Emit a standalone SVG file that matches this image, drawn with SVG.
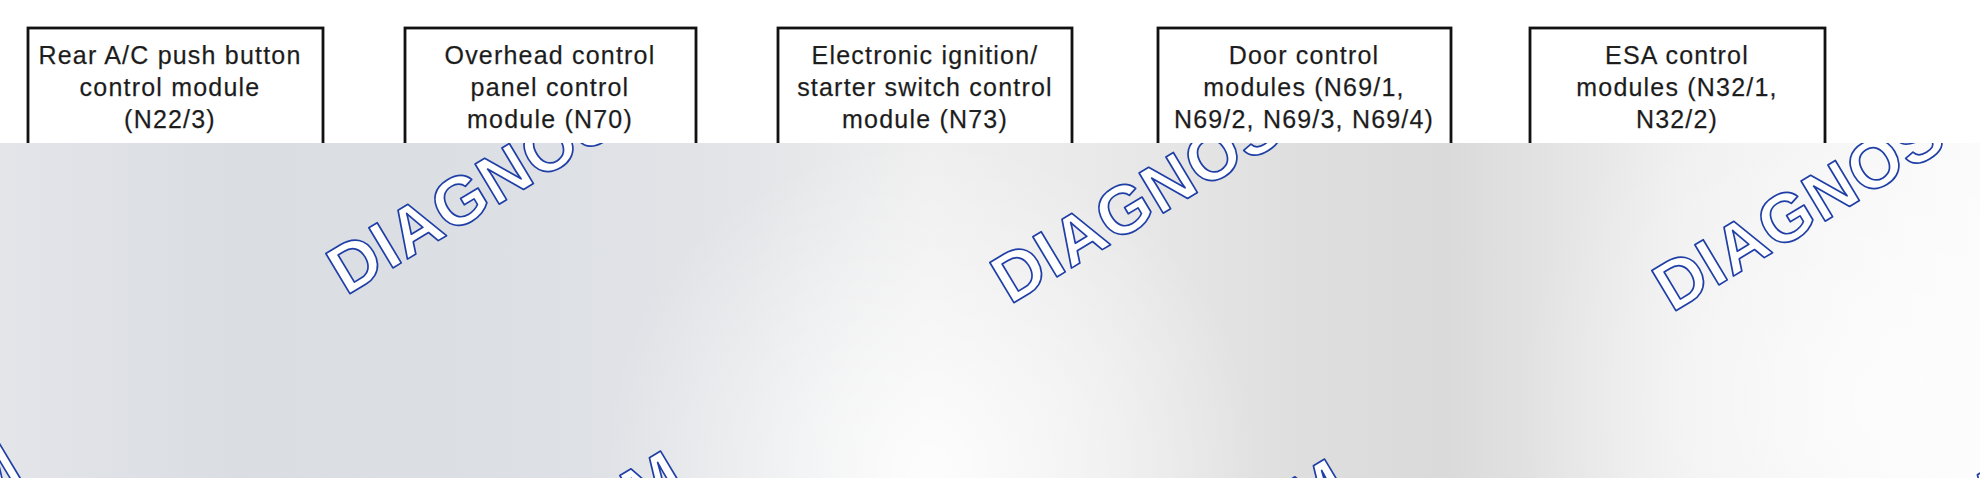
<svg xmlns="http://www.w3.org/2000/svg" width="1980" height="478" viewBox="0 0 1980 478">
  <defs>
    <style>
      .box { fill: #ffffff; stroke: #111111; stroke-width: 2.8; }
      .lbl { font-family: "Liberation Sans", Arial, sans-serif; font-size: 25px; letter-spacing: 1.2px; fill: #1a1a1a; stroke: #3a3a3a; stroke-width: 0.25; text-anchor: middle; }
      .wm { font-family: "Liberation Sans", Arial, sans-serif; font-weight: bold; font-size: 68px; letter-spacing: 1px; fill: #ffffff; stroke: #1f3fa6; stroke-width: 1.7; stroke-linejoin: round; }
    </style>
    <linearGradient id="bgH" x1="0" y1="0" x2="1980" y2="0" gradientUnits="userSpaceOnUse">
      <stop offset="0" stop-color="#e3e5e9"/>
      <stop offset="0.12" stop-color="#dadde2"/>
      <stop offset="0.25" stop-color="#dcdfe4"/>
      <stop offset="0.38" stop-color="#e3e5e8"/>
      <stop offset="0.47" stop-color="#efefef"/>
      <stop offset="0.56" stop-color="#e9e9e9"/>
      <stop offset="0.66" stop-color="#dedede"/>
      <stop offset="0.73" stop-color="#dadada"/>
      <stop offset="0.85" stop-color="#efefef"/>
      <stop offset="1" stop-color="#fafafa"/>
    </linearGradient>
    <radialGradient id="glow" cx="930" cy="470" r="330" gradientUnits="userSpaceOnUse">
      <stop offset="0" stop-color="#ffffff" stop-opacity="0.85"/>
      <stop offset="1" stop-color="#ffffff" stop-opacity="0"/>
    </radialGradient>
    <radialGradient id="glow2" cx="1900" cy="400" r="380" gradientUnits="userSpaceOnUse">
      <stop offset="0" stop-color="#ffffff" stop-opacity="0.7"/>
      <stop offset="1" stop-color="#ffffff" stop-opacity="0"/>
    </radialGradient>
    <clipPath id="lower">
      <rect x="0" y="143" width="1980" height="335"/>
    </clipPath>
  </defs>

  <!-- top white band -->
  <rect x="0" y="0" width="1980" height="143" fill="#ffffff"/>

  <g id="node-n22-3">
    <rect class="box" x="28" y="28" width="295" height="140"/>
    <text class="lbl" x="170" y="64">Rear A/C push button</text>
    <text class="lbl" x="170" y="96">control module</text>
    <text class="lbl" x="170" y="128">(N22/3)</text>
  </g>
  <g id="node-n70">
    <rect class="box" x="405" y="28" width="291" height="140"/>
    <text class="lbl" x="550" y="64">Overhead control</text>
    <text class="lbl" x="550" y="96">panel control</text>
    <text class="lbl" x="550" y="128">module (N70)</text>
  </g>
  <g id="node-n73">
    <rect class="box" x="778" y="28" width="294" height="140"/>
    <text class="lbl" x="925" y="64">Electronic ignition/</text>
    <text class="lbl" x="925" y="96">starter switch control</text>
    <text class="lbl" x="925" y="128">module (N73)</text>
  </g>
  <g id="node-n69">
    <rect class="box" x="1158" y="28" width="293" height="140"/>
    <text class="lbl" x="1304" y="64">Door control</text>
    <text class="lbl" x="1304" y="96">modules (N69/1,</text>
    <text class="lbl" x="1304" y="128">N69/2, N69/3, N69/4)</text>
  </g>
  <g id="node-n32">
    <rect class="box" x="1530" y="28" width="295" height="140"/>
    <text class="lbl" x="1677" y="64">ESA control</text>
    <text class="lbl" x="1677" y="96">modules (N32/1,</text>
    <text class="lbl" x="1677" y="128">N32/2)</text>
  </g>

  <g id="connectors"/>

  <!-- lower grey backdrop -->
  <g id="backdrop">
    <rect x="0" y="143" width="1980" height="335" fill="url(#bgH)"/>
    <rect x="0" y="143" width="1980" height="335" fill="url(#glow)"/>
    <rect x="0" y="143" width="1980" height="335" fill="url(#glow2)"/>
  </g>

  <!-- watermarks -->
  <g id="watermarks" clip-path="url(#lower)">
    <text class="wm" transform="translate(346 296) rotate(-31)">DIAGNOS</text>
    <text class="wm" transform="translate(1010 305) rotate(-31)">DIAGNOS</text>
    <text class="wm" transform="translate(1672 313) rotate(-31)">DIAGNOS</text>
    <text class="wm" transform="translate(-22 509) rotate(-31)">M</text>
    <text class="wm" transform="translate(640 518) rotate(-31)">M</text>
    <text class="wm" transform="translate(1304 526) rotate(-31)">M</text>
    <text class="wm" transform="translate(1968 535) rotate(-31)">M</text>
  </g>
</svg>
